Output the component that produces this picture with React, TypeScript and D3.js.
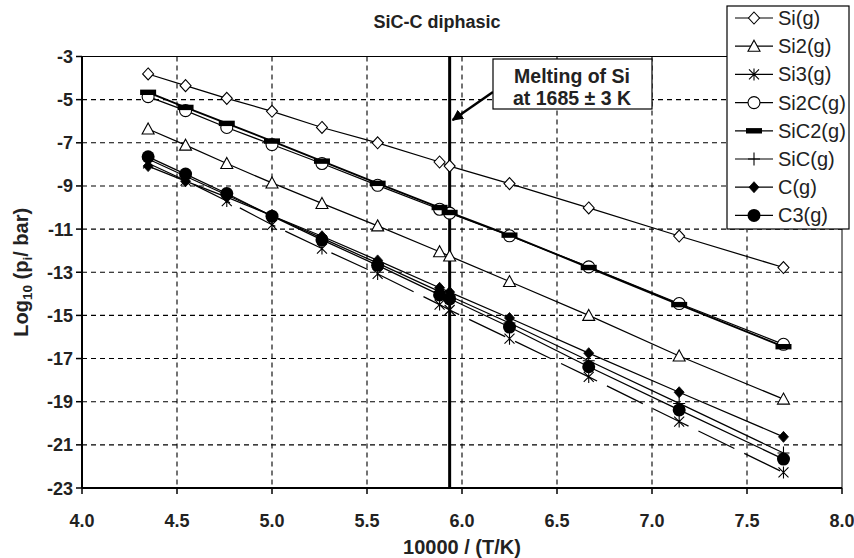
import React from "react";
import * as d3 from "d3";

const xVals = [4.348, 4.545, 4.762, 5.0, 5.263, 5.556, 5.882, 5.935, 6.25, 6.667, 7.143, 7.692];

const siG = [-3.81, -4.35, -4.94, -5.54, -6.29, -7.0, -7.89, -8.08, -8.89, -10.02, -11.32, -12.78];
const si2G = [-6.36, -7.11, -7.96, -8.86, -9.81, -10.85, -12.05, -12.25, -13.43, -15.0, -16.88, -18.88];
const si3G = [-7.95, -8.75, -9.7, -10.8, -11.9, -13.08, -14.5, -14.75, -16.08, -17.85, -19.92, -22.28];
const si2CG = [-4.86, -5.51, -6.29, -7.08, -7.96, -8.97, -10.08, -10.26, -11.31, -12.75, -14.45, -16.34];
const siC2G = [-4.66, -5.36, -6.1, -6.92, -7.85, -8.88, -10.0, -10.23, -11.28, -12.78, -14.5, -16.45];
const sicG = [-7.75, -8.55, -9.42, -10.38, -11.42, -12.58, -13.9, -14.1, -15.35, -17.1, -19.08, -21.38];
const cG = [-8.08, -8.78, -9.52, -10.38, -11.33, -12.45, -13.72, -13.92, -15.12, -16.75, -18.56, -20.63];
const c3G = [-7.65, -8.45, -9.35, -10.4, -11.5, -12.68, -14.05, -14.23, -15.54, -17.38, -19.38, -21.66];

const seriesNames = ["Si(g)", "Si2(g)", "Si3(g)", "Si2C(g)", "SiC2(g)", "SiC(g)", "C(g)", "C3(g)"];
const seriesValues = [siG, si2G, si3G, si2CG, siC2G, sicG, cG, c3G];
const markerKinds = ["diamondOpen", "triangle", "asterisk", "circleOpen", "bar", "plus", "diamondFilled", "circleFilled"];

const xTicks = [4.0, 4.5, 5.0, 5.5, 6.0, 6.5, 7.0, 7.5, 8.0];
const yTicks = [-3, -5, -7, -9, -11, -13, -15, -17, -19, -21, -23];
const meltX = 5.935;

const W = 854, H = 558;
const left = 82, right = 842, top = 56.5, bottom = 488;
const FONT = "'Liberation Sans', Arial, sans-serif";

function Marker({ kind, x, y }: { kind: string; x: number; y: number }) {
  switch (kind) {
    case "diamondOpen":
      return <path d={`M${x},${y - 6}L${x + 5.5},${y}L${x},${y + 6}L${x - 5.5},${y}Z`} fill="white" stroke="black" strokeWidth={1.1} />;
    case "triangle":
      return <path d={`M${x},${y - 6}L${x + 6},${y + 5}L${x - 6},${y + 5}Z`} fill="white" stroke="black" strokeWidth={1.1} />;
    case "asterisk":
      return <path d={`M${x - 5},${y - 5}L${x + 5},${y + 5}M${x - 5},${y + 5}L${x + 5},${y - 5}M${x},${y - 6}L${x},${y + 6}`} stroke="black" strokeWidth={1.1} fill="none" />;
    case "circleOpen":
      return <circle cx={x} cy={y} r={6} fill="white" stroke="black" strokeWidth={1.1} />;
    case "bar":
      return <rect x={x - 8} y={y - 2.7} width={16} height={5.4} fill="black" />;
    case "plus":
      return <path d={`M${x - 6},${y}L${x + 6},${y}M${x},${y - 6.5}L${x},${y + 6.5}`} stroke="black" strokeWidth={1.1} fill="none" />;
    case "diamondFilled":
      return <path d={`M${x},${y - 5.5}L${x + 5},${y}L${x},${y + 5.5}L${x - 5},${y}Z`} fill="black" stroke="black" strokeWidth={0.8} />;
    case "circleFilled":
      return <circle cx={x} cy={y} r={6.5} fill="black" />;
    default:
      return null;
  }
}

export default function App() {
  const x = d3.scaleLinear().domain([4, 8]).range([left, right]);
  const y = d3.scaleLinear().domain([-23, -3]).range([bottom, top]);
  const line = d3.line<[number, number]>().x((d) => x(d[0])).y((d) => y(d[1]));

  const lineWidth = (i: number) => (i === 4 ? 1.9 : 1.25);
  const dash = (i: number) => (i === 2 ? "40,11" : undefined);

  const legendX = 727, legendY = 6, legendW = 122, legendH = 223;
  const rowY = (i: number) => 18 + i * 28.2;

  return (
    <svg width={W} height={H} style={{ position: "absolute", left: 0, top: 0, background: "white" }} fontFamily={FONT}>
      <rect x={0} y={0} width={W} height={H} fill="white" />
      {/* grid */}
      {yTicks.filter((t) => t !== -3 && t !== -23).map((t) => (
        <line key={"gy" + t} x1={left} x2={right} y1={y(t)} y2={y(t)} stroke="black" strokeWidth={1.1} strokeDasharray="5,4" />
      ))}
      {xTicks.filter((t) => t !== 4 && t !== 8).map((t) => (
        <line key={"gx" + t} x1={x(t)} x2={x(t)} y1={top} y2={bottom} stroke="black" strokeWidth={1.1} strokeDasharray="5,4" />
      ))}
      {/* frame */}
      <line x1={left} x2={right} y1={top} y2={top} stroke="black" strokeWidth={1} />
      <line x1={right} x2={right} y1={top} y2={bottom} stroke="black" strokeWidth={1} />
      <line x1={left} x2={left} y1={top} y2={bottom} stroke="black" strokeWidth={2} />
      <line x1={left} x2={right} y1={bottom} y2={bottom} stroke="black" strokeWidth={2} />
      {/* ticks */}
      {yTicks.map((t) => (
        <g key={"ty" + t}>
          <line x1={left - 6} x2={left} y1={y(t)} y2={y(t)} stroke="black" strokeWidth={1.5} />
          <text x={left - 9} y={y(t) + 6.5} textAnchor="end" fontSize={18} fontWeight="bold" fill="#222">{t}</text>
        </g>
      ))}
      {xTicks.map((t) => (
        <g key={"tx" + t}>
          <line x1={x(t)} x2={x(t)} y1={bottom} y2={bottom + 6} stroke="black" strokeWidth={1.5} />
          <text x={x(t)} y={bottom + 39} textAnchor="middle" fontSize={18} fontWeight="bold" fill="#222">{t.toFixed(1)}</text>
        </g>
      ))}
      {/* melting line */}
      <line x1={x(meltX)} x2={x(meltX)} y1={top} y2={bottom} stroke="black" strokeWidth={3} />
      {/* series */}
      {seriesValues.map((vals, i) => {
        const pts = xVals.map((xv, j) => [xv, vals[j]] as [number, number]);
        return (
          <g key={"s" + i}>
            <path d={line(pts) || ""} fill="none" stroke="black" strokeWidth={lineWidth(i)} strokeDasharray={dash(i)} />
          </g>
        );
      })}
      {seriesValues.map((vals, i) => (
        <g key={"m" + i}>
          {xVals.map((xv, j) => (
            <Marker key={j} kind={markerKinds[i]} x={x(xv)} y={y(vals[j])} />
          ))}
        </g>
      ))}
      {/* annotation */}
      <defs>
        <marker id="arr" viewBox="0 0 10 10" refX="9" refY="5" markerWidth="4.5" markerHeight="4.5" orient="auto">
          <path d="M0,0L10,5L0,10Z" fill="black" />
        </marker>
      </defs>
      <line x1={493} y1={92} x2={x(meltX) + 3} y2={120} stroke="black" strokeWidth={2.5} markerEnd="url(#arr)" />
      <rect x={493} y={59} width={159} height={50} fill="white" stroke="black" strokeWidth={1.2} />
      <text x={572} y={83} textAnchor="middle" fontSize={19.5} fontWeight="bold" fill="#222">Melting of Si</text>
      <text x={572} y={105} textAnchor="middle" fontSize={19.5} fontWeight="bold" fill="#222">at 1685 ± 3 K</text>
      {/* title */}
      <text x={437} y={28} textAnchor="middle" fontSize={18} fontWeight="bold" fill="#222">SiC-C diphasic</text>
      {/* axis titles */}
      <text x={462} y={554} textAnchor="middle" fontSize={20} fontWeight="bold" fill="#222">10000 / (T/K)</text>
      <text transform={`translate(28,${(top + bottom) / 2}) rotate(-90)`} textAnchor="middle" fontSize={20} fontWeight="bold" fill="#222">
        Log<tspan fontSize={13.5} dy={4}>10</tspan><tspan dy={-4}> (p</tspan><tspan fontSize={13.5} dy={4}>i</tspan><tspan dy={-4}>/ bar)</tspan>
      </text>
      {/* legend */}
      <rect x={legendX} y={legendY} width={legendW} height={legendH} fill="white" stroke="black" strokeWidth={1.2} />
      {seriesNames.map((n, i) => (
        <g key={"l" + i}>
          <line x1={735} x2={773} y1={rowY(i)} y2={rowY(i)} stroke="black" strokeWidth={1.2} />
          <Marker kind={markerKinds[i]} x={754} y={rowY(i)} />
          <text x={778} y={rowY(i) + 7} fontSize={20} fill="#222">{n}</text>
        </g>
      ))}
    </svg>
  );
}
